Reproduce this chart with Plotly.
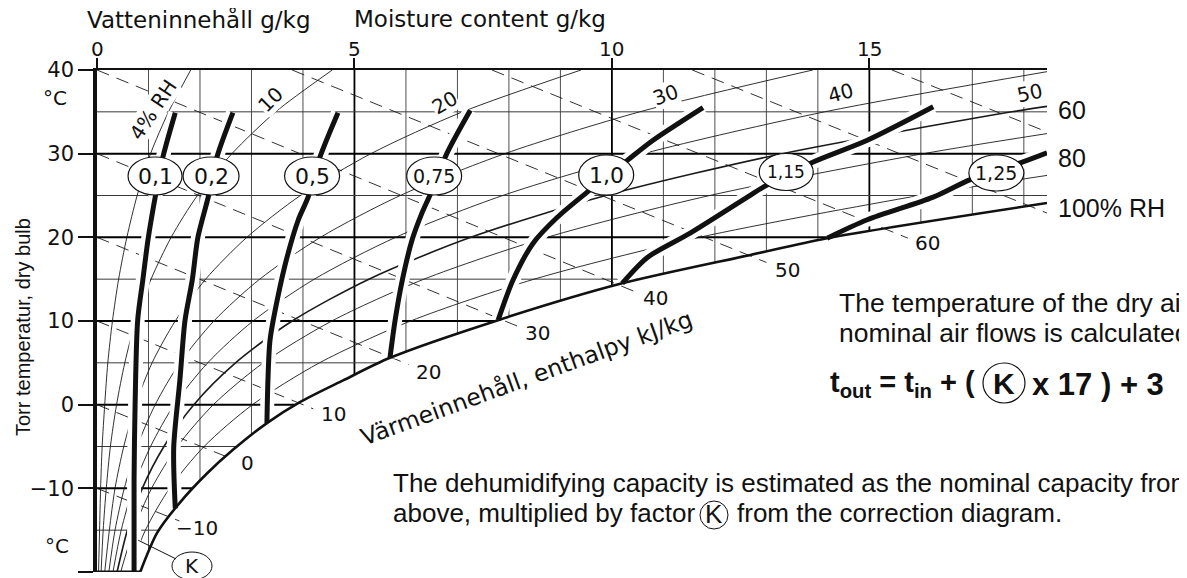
import numpy as np
import plotly.graph_objects as go

# ---------------- data ----------------
# saturation curve (100 % RH): moisture g/kg, temperature degC
sat_x = [0.84, 1.17, 1.61, 2.14, 2.64, 3.30, 3.94, 4.78, 5.69, 7.79, 10.20, 12.69, 14.18, 18.45]
sat_t = [-20, -15.3, -11.7, -8.2, -5.4, -2.2, 0.3, 2.9, 5.6, 10.1, 14.5, 17.9, 19.9, 24.1]

# relative humidity curves
rh_t = [-20, -15, -10, -5, 0, 5, 10, 15, 20, 25, 30, 35, 40]
rh4 = [0.03, 0.05, 0.07, 0.10, 0.15, 0.21, 0.30, 0.42, 0.58, 0.78, 1.04, 1.39, 1.82]
rh10 = [0.08, 0.12, 0.18, 0.26, 0.38, 0.54, 0.75, 1.05, 1.44, 1.95, 2.62, 3.47, 4.57]
rh20 = [0.15, 0.24, 0.35, 0.52, 0.75, 1.07, 1.52, 2.11, 2.91, 3.95, 5.32, 7.10, 9.40]
rh30 = [0.23, 0.35, 0.53, 0.78, 1.13, 1.61, 2.27, 3.16, 4.34, 5.89, 7.92, 10.54, 13.90]
rh40 = [0.31, 0.47, 0.70, 1.04, 1.50, 2.15, 3.03, 4.22, 5.80, 7.88, 10.61, 14.13, 18.45]
rh40_t = [-20, -15, -10, -5, 0, 5, 10, 15, 20, 25, 30, 35, 39.8]
rh50 = [0.39, 0.59, 0.88, 1.30, 1.88, 2.69, 3.79, 5.28, 7.26, 9.88, 13.31, 17.77, 18.45]
rh50_t = [-20, -15, -10, -5, 0, 5, 10, 15, 20, 25, 30, 35, 35.65]
rh60 = [0.46, 0.71, 1.06, 1.56, 2.26, 3.23, 4.56, 6.35, 8.74, 11.90, 16.05, 18.45]
rh60_t = [-20, -15, -10, -5, 0, 5, 10, 15, 20, 25, 30, 32.4]
rh80 = [0.62, 0.94, 1.41, 2.08, 3.02, 4.32, 6.09, 8.49, 11.70, 15.97, 18.45]
rh80_t = [-20, -15, -10, -5, 0, 5, 10, 15, 20, 25, 27.4]

# enthalpy lines kJ/kg (dashed): start and end points
enth_h = [-10, 0, 10, 20, 30, 40, 50, 60, 70, 80]
enth_x0 = [0, 0, 0, 0, 0, 0, 3.79, 7.67, 11.56, 15.44]
enth_t0 = [-10, 0, 10, 20, 30, 40, 40, 40, 40, 40]
enth_x1 = [1.60, 2.55, 4.20, 6.05, 8.20, 10.45, 13.00, 15.75, 18.45, 18.45]
enth_t1 = [-13.9, -6.3, -0.5, 4.8, 9.3, 13.5, 17.0, 19.9, 22.9, 32.6]
enth_lab = ["\u221210", "0", "10", "20", "30", "40", "50", "60"]
enth_lab_x = [1.94, 2.93, 4.59, 6.43, 8.55, 10.84, 13.41, 16.13]
enth_lab_t = [-14.7, -7.0, -1.1, 3.9, 8.6, 12.75, 16.1, 19.3]

# correction factor K curves
k_names = ["0,1", "0,2", "0,5", "0,75", "1,0", "1,15", "1,25"]
k01_x = [0.72, 0.72, 0.74, 0.79, 0.89, 0.99, 1.13, 1.28, 1.52]
k01_t = [-20, -9.0, 0.0, 10.1, 14.9, 19.7, 24.8, 29.6, 34.9]
k02_x = [1.52, 1.49, 1.61, 1.71, 1.85, 1.96, 2.16, 2.33, 2.64]
k02_t = [-12.4, -5.1, 2.95, 10.1, 14.9, 20.0, 24.8, 29.6, 34.9]
k05_x = [3.30, 3.32, 3.36, 3.50, 3.69, 3.91, 4.10, 4.33, 4.68]
k05_t = [-2.2, 2.95, 7.7, 12.5, 17.6, 22.1, 24.8, 29.6, 34.9]
k075_x = [5.69, 5.79, 5.93, 6.12, 6.31, 6.47, 6.80, 7.25]
k075_t = [5.6, 10.1, 14.9, 19.7, 22.9, 25.1, 30.1, 35.2]
k10_x = [7.79, 8.08, 8.47, 8.94, 9.52, 10.30, 10.80, 11.77]
k10_t = [10.1, 14.9, 19.3, 22.4, 25.4, 29.2, 31.6, 35.5]
k115_x = [10.20, 10.69, 11.52, 12.63, 12.94, 13.91, 14.96, 16.24]
k115_t = [14.5, 17.6, 20.5, 24.8, 26.0, 29.0, 31.6, 35.6]
k125_x = [14.18, 14.96, 16.24, 16.96, 17.93, 18.45]
k125_t = [19.9, 22.1, 24.8, 26.9, 28.9, 30.1]

# oval labels of the K curves
oval_x = [1.127, 2.215, 4.177, 6.548, 9.889, 13.386, 17.467]
oval_t = [27.33, 27.33, 27.33, 27.33, 27.45, 27.81, 27.69]
oval_w = [54, 56, 55, 55, 55, 54, 55]
oval_h = [38, 38, 38, 38, 40, 37, 36]
oval_fs = [22, 22, 22, 19, 22, 17, 19]

# RH labels
rh_lab = ["4% RH", "10", "20", "30", "40", "50"]
rh_lab_x = [1.09, 3.36, 6.74, 11.04, 14.44, 18.11]
rh_lab_t = [35.2, 36.4, 36.1, 37.0, 37.25, 37.25]
rh_lab_ang = [-56, -45, -30, -20, -15, -12]
right_lab = ["60", "80", "100% RH"]
right_lab_t = [35.2, 29.5, 23.5]

# K leader line
k_leader_x = [0.80, 1.535]
k_leader_t = [-16.2, -18.44]

x_ticks = [0, 5, 10, 15]
x_ticktext = ["0", "5", "10", "15"]
y_ticks = [-20, -10, 0, 10, 20, 30, 40]
y_ticktext = ["\u221220", "\u221210", "0", "10", "20", "30", "40"]
grid_x = list(range(1, 19))
grid_t = [-15, -10, -5, 0, 5, 10, 15, 20, 25, 30, 35]
X_MAX = 18.45

# ---------------- figure ----------------
# target page positions of the plot area (page body has an 8 px margin)
L, R, TOP, BOT = 97, 1047, 70, 572
W, H = 1187, 578
BODY = 8


def pp(px, py):
    return (px - L) / (R - L), (BOT - py) / (BOT - TOP)


def lt(x, y, width, color="black", dash=None, shape="spline"):
    return go.Scatter(x=x, y=y, mode="lines",
                      line=dict(width=width, color=color, dash=dash, shape=shape, smoothing=0.8),
                      hoverinfo="skip", showlegend=False)


fig = go.Figure()

# grid lines clipped at the saturation curve
for major, width, col in [(False, 0.9, "#3a3a3a"), (True, 1.8, "black")]:
    xs, ys = [], []
    for gx in grid_x:
        if (gx % 5 == 0) == major:
            xs += [gx, gx, None]
            ys += [40, float(np.interp(gx, sat_x, sat_t)), None]
    fig.add_trace(lt(xs, ys, width, col, shape="linear"))
for major, width, col in [(False, 1.0, "#3a3a3a"), (True, 2.0, "black")]:
    xs, ys = [], []
    for gt in grid_t:
        if (gt % 10 == 0) == major:
            xs += [0, min(float(np.interp(gt, sat_t, sat_x)), X_MAX), None]
            ys += [gt, gt, None]
    fig.add_trace(lt(xs, ys, width, col, shape="linear"))

# RH curves
for xs, ts, w in [(rh4, rh_t, 0.9), (rh10, rh_t, 0.9), (rh20, rh_t, 0.9), (rh30, rh_t, 0.9),
                  (rh40, rh40_t, 0.9), (rh50, rh50_t, 1.6), (rh60, rh60_t, 0.9), (rh80, rh80_t, 0.9)]:
    fig.add_trace(lt(xs, ts, w, "#1a1a1a"))

# enthalpy lines
for i in range(len(enth_h)):
    fig.add_trace(lt([enth_x0[i], enth_x1[i]], [enth_t0[i], enth_t1[i]], 0.9, "#1a1a1a",
                     dash="13px,8px", shape="linear"))

k_curves = [(k01_x, k01_t), (k02_x, k02_t), (k05_x, k05_t), (k075_x, k075_t),
            (k10_x, k10_t), (k115_x, k115_t), (k125_x, k125_t)]
for xs, ts in k_curves:
    fig.add_trace(lt(xs, ts, 14, "white"))
for xs, ts in k_curves:
    fig.add_trace(lt(xs, ts, 5, "#111111"))

# saturation curve and bottom border
fig.add_trace(lt(sat_x, sat_t, 2.6, "#111111"))
fig.add_trace(lt([0, sat_x[0]], [-20, -20], 3.2, "#111111", shape="linear"))
fig.add_trace(lt(k_leader_x, k_leader_t, 1.0, "#111111", shape="linear"))

shapes = []
ann = []
for i, name in enumerate(k_names):
    shapes.append(dict(type="circle", xref="x", yref="y", xsizemode="pixel", ysizemode="pixel",
                       xanchor=oval_x[i], yanchor=oval_t[i],
                       x0=-oval_w[i] / 2, x1=oval_w[i] / 2, y0=-oval_h[i] / 2, y1=oval_h[i] / 2,
                       fillcolor="white", line=dict(color="#111111", width=1.2), layer="above"))
    ann.append(dict(x=oval_x[i], y=oval_t[i], xref="x", yref="y", text=name, showarrow=False,
                    font=dict(family="DejaVu Sans", size=oval_fs[i], color="#111111")))

for i, t in enumerate(rh_lab):
    ann.append(dict(x=rh_lab_x[i], y=rh_lab_t[i], xref="x", yref="y", text=t, showarrow=False,
                    textangle=rh_lab_ang[i], bgcolor="white", borderpad=0,
                    font=dict(family="DejaVu Sans", size=20, color="#111111")))
for i, t in enumerate(enth_lab):
    ann.append(dict(x=enth_lab_x[i], y=enth_lab_t[i], xref="x", yref="y", text=t, showarrow=False,
                    font=dict(family="DejaVu Sans", size=20, color="#111111")))
for i, t in enumerate(right_lab):
    ann.append(dict(x=X_MAX, y=right_lab_t[i], xref="x", yref="y", text=t, showarrow=False,
                    xanchor="left", xshift=9,
                    font=dict(family="Liberation Sans", size=25, color="#111111")))

ann.append(dict(x=8.35, y=3.2, xref="x", yref="y", text="Värmeinnehåll, enthalpy kJ/kg",
                showarrow=False, textangle=-20,
                font=dict(family="DejaVu Sans", size=23.5, color="#111111")))

# top axis tick labels
for v, t in zip(x_ticks, x_ticktext):
    ann.append(dict(x=v, y=pp(0, 49)[1], xref="x", yref="paper", text=t, showarrow=False,
                    yanchor="middle", font=dict(family="DejaVu Sans", size=20, color="#111111")))


def add_text(px, py, text, size, family="Liberation Sans", xanchor="left", angle=0):
    x, y = pp(px, py)
    ann.append(dict(x=x, y=y, xref="paper", yref="paper", text=text, showarrow=False,
                    xanchor=xanchor, yanchor="middle", textangle=angle,
                    font=dict(family=family, size=size, color="#111111")))


def add_circle(px0, py0, px1, py1, width=1.0):
    x0, y0 = pp(px0, py1)
    x1, y1 = pp(px1, py0)
    shapes.append(dict(type="circle", xref="paper", yref="paper", x0=x0, x1=x1, y0=y0, y1=y1,
                       line=dict(color="#111111", width=width), fillcolor="rgba(0,0,0,0)",
                       layer="above"))


add_text(85, 19, "Vatteninnehåll g/kg", 23, "DejaVu Sans")
add_text(352, 19, "Moisture content g/kg", 23, "DejaVu Sans")
add_text(55, 98, "°C", 20, "DejaVu Sans", xanchor="center")
add_text(57, 546, "°C", 20, "DejaVu Sans", xanchor="center")
add_text(23, 327, "Torr temperatur, dry bulb", 20, "Liberation Sans", xanchor="center", angle=-90)

add_text(837, 303, "The temperature of the dry air", 26.5)
add_text(837, 333, "nominal air flows is calculated", 26.5)
add_text(828, 384, "<b>t<sub>out</sub> = t<sub>in</sub> + (</b>", 29)
add_text(1004, 383, "<b>K</b>", 30, xanchor="center")
add_circle(983, 363, 1025, 403, 1.2)
add_text(1030, 384, "<b>x 17 ) + 3</b>", 31)

add_text(391, 483, "The dehumidifying capacity is estimated as the nominal capacity from", 26)
add_text(391, 513, "above, multiplied by factor", 26)
add_text(714, 514, "K", 26, xanchor="center")
add_circle(700, 501, 728, 529, 1.0)
add_text(735, 513, "from the correction diagram.", 26)

# K marker at bottom of the chart
add_text(192, 566, "K", 20, "DejaVu Sans", xanchor="center")
add_circle(172, 552, 212, 580, 1.0)

FW, FH = W - BODY, H - BODY
fig.update_layout(
    width=FW, height=FH,
    margin=dict(l=L - BODY, r=FW - (R - BODY), t=TOP - BODY, b=FH - (BOT - BODY)),
    paper_bgcolor="white", plot_bgcolor="white", showlegend=False,
    shapes=shapes, annotations=ann,
    xaxis=dict(range=[0, X_MAX], side="top", tickvals=x_ticks, ticks="outside", ticklen=10,
               tickwidth=1.5, tickcolor="#111111", showgrid=False, zeroline=False,
               showticklabels=False,
               showline=True, linewidth=2, linecolor="#111111", fixedrange=True),
    yaxis=dict(range=[-20, 40], tickvals=y_ticks, ticktext=y_ticktext, ticks="outside",
               ticklen=15, tickwidth=1.5, tickcolor="#111111", showgrid=False, zeroline=False,
               showline=True, linewidth=3.5, linecolor="#111111", fixedrange=True,
               tickfont=dict(family="DejaVu Sans", size=21, color="#111111")),
)

fig.write_html("out.html")
